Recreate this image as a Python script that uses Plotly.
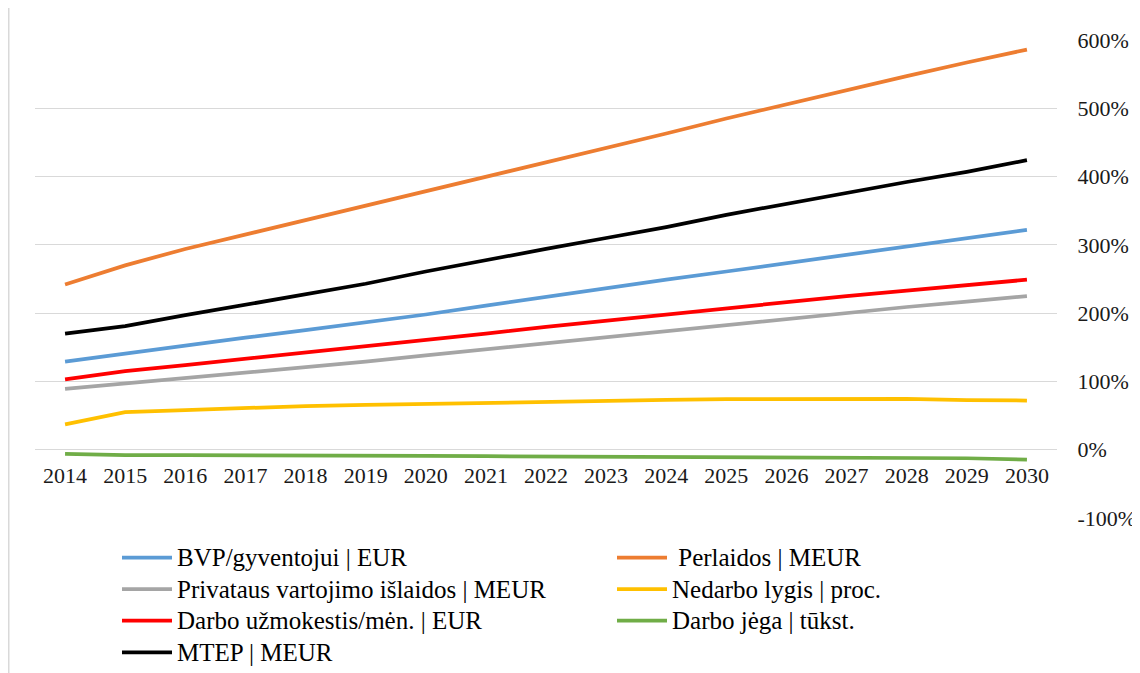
import plotly.graph_objects as go

years = [str(y) for y in range(2014, 2031)]

bvp = [129, 141, 152, 164, 175, 186, 198, 211, 224, 237, 249, 261, 273, 286, 298, 310, 322]
perlaidos = [242, 270, 294, 315, 336, 357, 379, 400, 421, 442, 463, 485, 506, 527, 547, 567, 586]
privataus = [89, 97, 104, 112, 120, 129, 138, 147, 156, 165, 174, 183, 192, 201, 209, 217, 225]
nedarbo = [37, 55, 58, 61, 64, 65.5, 67, 69, 71, 72, 73, 74, 74, 74.5, 74.5, 72.5, 72]
uzmokestis = [103, 115, 124, 133, 143, 152, 161, 170, 180, 189, 198, 208, 217, 225, 233, 241, 249]
jega = [-6, -8, -8, -8, -8, -9, -9, -9.5, -10, -10.5, -10.5, -11, -12, -12, -12, -12.5, -14.5]
mtep = [170, 181, 197, 212, 227, 243, 261, 278, 294, 310, 326, 344, 360, 377, 392, 407, 424]

y_tickvals = [-100, 0, 100, 200, 300, 400, 500, 600]
y_ticktext = ["-100%", "0%", "100%", "200%", "300%", "400%", "500%", "600%"]

series = [
    ("BVP/gyventojui | EUR", bvp, "#5B9BD5", "legend"),
    ("\u00a0Perlaidos | MEUR", perlaidos, "#ED7D31", "legend2"),
    ("Privataus vartojimo išlaidos | MEUR", privataus, "#A5A5A5", "legend"),
    ("Nedarbo lygis | proc.", nedarbo, "#FFC000", "legend2"),
    ("Darbo užmokestis/mėn. | EUR", uzmokestis, "#FF0000", "legend"),
    ("Darbo jėga | tūkst.", jega, "#70AD47", "legend2"),
    ("MTEP | MEUR", mtep, "#000000", "legend"),
]

FONT = "Liberation Serif, Times New Roman, serif"

fig = go.Figure()
for name, vals, color, lg in series:
    fig.add_trace(go.Scatter(
        x=years, y=vals, mode="lines",
        name='<span style="font-size:25px">' + name + '</span>',
        line=dict(color=color, width=3.75),
        legend=lg,
    ))

legend_common = dict(
    orientation="v", xref="container", yref="container",
    xanchor="left", yanchor="top",
    bgcolor="rgba(0,0,0,0)", borderwidth=0,
    font=dict(family=FONT, size=22, color="#000000"),
    itemwidth=50, traceorder="normal",
)

L, R, T, B = 27, 1049, 32, 510
W, H = 1140, 673

fig.update_layout(
    width=W, height=H,
    margin=dict(l=L, r=W - R, t=T, b=H - B, autoexpand=False),
    paper_bgcolor="white", plot_bgcolor="white",
    font=dict(family=FONT, size=22, color="#1a1a1a"),
    showlegend=True,
    legend=dict(x=109 / W, y=1 - 528.7 / H, **legend_common),
    legend2=dict(x=604 / W, y=1 - 528.7 / H, **legend_common),
    xaxis=dict(
        type="category", range=[-0.5, 16.5], domain=[0, 1],
        anchor="free", position=100 / 700,
        showgrid=False, zeroline=False, showline=False,
        ticks="outside", ticklen=6, tickcolor="rgba(0,0,0,0)",
        tickangle=0,
        tickfont=dict(family=FONT, size=22, color="#1a1a1a"),
    ),
    yaxis=dict(
        range=[-100, 600], tickvals=y_tickvals, ticktext=y_ticktext,
        side="right", domain=[0, 1],
        showgrid=True, gridcolor="#d9d9d9", gridwidth=1,
        zeroline=False, showline=False,
        ticks="outside", ticklen=15, tickcolor="rgba(0,0,0,0)",
        tickfont=dict(family=FONT, size=22, color="#1a1a1a"),
    ),
    shapes=[dict(
        type="line", xref="paper", yref="paper",
        x0=(0.75 - L) / (R - L), x1=(0.75 - L) / (R - L),
        y0=(B - H) / (B - T), y1=B / (B - T),
        line=dict(color="#d9d9d9", width=1.5),
    )],
)

fig.write_html("out.html")
